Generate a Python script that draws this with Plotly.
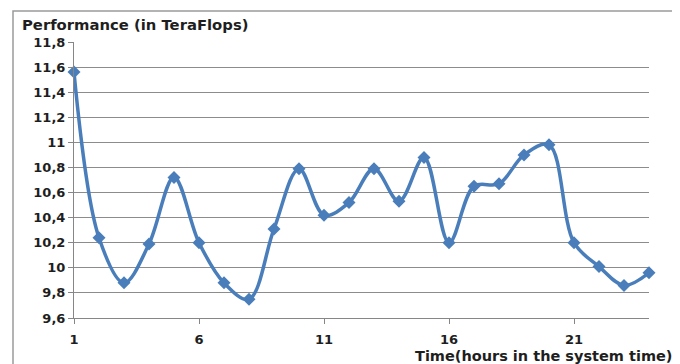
import plotly.graph_objects as go

hours = list(range(1, 25))
performance = [11.56, 10.24, 9.88, 10.19, 10.72, 10.20, 9.88, 9.75, 10.31, 10.79,
               10.42, 10.52, 10.79, 10.53, 10.88, 10.20, 10.65, 10.67, 10.90, 10.98,
               10.20, 10.01, 9.86, 9.96]
y_tickvals = [9.6, 9.8, 10.0, 10.2, 10.4, 10.6, 10.8, 11.0, 11.2, 11.4, 11.6, 11.8]
y_ticktext = ["9,6", "9,8", "10", "10,2", "10,4", "10,6", "10,8", "11", "11,2", "11,4", "11,6", "11,8"]
x_tickvals = [1, 6, 11, 16, 21]
y_title = "Performance (in TeraFlops)"
x_title = "Time(hours in the system time)"

BLUE = "#4A7EBB"
FONT = "DejaVu Sans"
TXT = "#1e1e1e"

# page body has an 8px margin; figure placed at (8, 8)
OFF = 8
L, R, T, B = 74 - OFF, 680 - 649, 42 - OFF, 364 - 318
W, H = 680 - OFF, 364 - OFF
PW, PH = 649 - 74, 318 - 42


def px(xp):
    return (xp - 74) / PW


def py(yp):
    return (318 - yp) / PH


fig = go.Figure()
fig.add_trace(go.Scatter(
    x=hours, y=performance, mode="lines+markers",
    line=dict(color=BLUE, width=3.5, shape="spline", smoothing=1),
    marker=dict(symbol="diamond", size=10, color=BLUE),
    showlegend=False, cliponaxis=False,
))

fig.update_layout(
    width=W, height=H,
    margin=dict(l=L, r=R, t=T, b=B),
    paper_bgcolor="white", plot_bgcolor="white",
    font=dict(family=FONT, size=12, color=TXT),
    xaxis=dict(range=[1, 24], tickvals=x_tickvals, showgrid=False, zeroline=False,
               showline=True, linecolor="#868686", linewidth=1,
               ticks="outside", ticklen=5, tickcolor="#868686",
               ticklabelstandoff=4,
               tickfont=dict(family=FONT, size=13, color=TXT, weight="bold")),
    yaxis=dict(range=[9.6, 11.8], tickvals=y_tickvals, ticktext=y_ticktext,
               showgrid=True, gridcolor="#8c8c8c", gridwidth=1, zeroline=False,
               showline=True, linecolor="#868686", linewidth=1,
               ticks="outside", ticklen=5, tickcolor="#868686",
               tickfont=dict(family=FONT, size=13, color=TXT, weight="bold")),
    shapes=[dict(type="rect", xref="paper", yref="paper",
                 x0=px(13), x1=px(678), y0=py(380), y1=py(11),
                 line=dict(color="#9a9a9a", width=1.5), layer="below")],
    annotations=[
        dict(text=y_title, xref="paper", yref="paper", x=px(20), y=py(25),
             xanchor="left", yanchor="middle", showarrow=False,
             font=dict(family=FONT, size=14.8, color=TXT, weight="bold")),
        dict(text=x_title, xref="paper", yref="paper", x=px(674), y=py(356),
             xanchor="right", yanchor="middle", showarrow=False,
             font=dict(family=FONT, size=14.5, color=TXT, weight="bold")),
    ],
)

fig.write_html("out.html")
